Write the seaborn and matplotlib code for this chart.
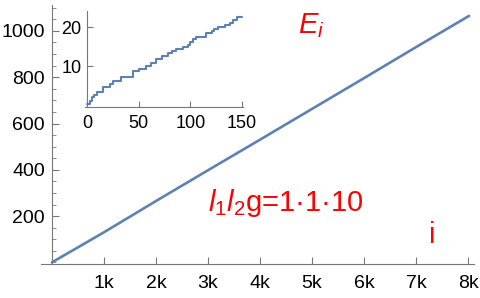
import numpy as np
import pandas as pd
import matplotlib
matplotlib.use("Agg")
import matplotlib.pyplot as plt
import seaborn as sns
from matplotlib.ticker import MultipleLocator, FixedLocator

# main curve: E_i read at every 1000 levels
main_i = [0, 1000, 2000, 3000, 4000, 5000, 6000, 7000, 8020]
main_E = [0, 130, 265, 398, 530, 663, 796, 930, 1065]

# inset: first 150 levels (step breakpoints)
inset_i = [0, 3, 5, 7, 10, 16, 22, 25, 33, 45, 50, 57, 62, 67, 73, 78, 82, 86,
           93, 98, 100, 103, 106, 115, 121, 123, 127, 134, 138, 141, 145, 150]
inset_E = [0.3, 1.0, 2.0, 2.7, 3.4, 4.5, 5.4, 6.1, 7.3, 8.7, 9.2, 10.1, 10.8, 11.8,
           12.6, 13.4, 13.9, 14.4, 15.0, 15.5, 16.1, 16.8, 17.5, 18.5, 19.0, 19.6,
           20.1, 20.6, 21.1, 21.7, 22.6, 22.6]

main_xticks = [1000, 2000, 3000, 4000, 5000, 6000, 7000, 8000]
main_xlabels = ["1k", "2k", "3k", "4k", "5k", "6k", "7k", "8k"]
main_yticks = [200, 400, 600, 800, 1000]

sns.set_style("ticks")
plt.rcParams["font.family"] = ["Liberation Sans", "DejaVu Sans"]
plt.rcParams["mathtext.fontset"] = "custom"
plt.rcParams["mathtext.rm"] = "Liberation Sans"
plt.rcParams["mathtext.it"] = "Liberation Sans:italic"

line_col = "#5E81B5"
axis_col = "#777777"

fig = plt.figure(figsize=(4.8, 2.98), dpi=100)
ax = fig.add_axes([41 / 480, 1 - 264 / 298, 433 / 480, 259 / 298])
df_main = pd.DataFrame({"i": main_i, "E": main_E})
sns.lineplot(data=df_main, x="i", y="E", ax=ax, color=line_col, linewidth=1.9)
ax.set_xlim(-210, 8115)
ax.set_ylim(-7, 1112)
ax.spines["left"].set_position(("data", 0))
ax.spines["right"].set_visible(False)
ax.spines["top"].set_visible(False)
for s in ["left", "bottom"]:
    ax.spines[s].set_color(axis_col)
ax.xaxis.set_major_locator(FixedLocator(main_xticks))
ax.set_xticklabels(main_xlabels)
ax.yaxis.set_major_locator(FixedLocator(main_yticks))
ax.yaxis.set_minor_locator(MultipleLocator(50))
ax.tick_params(axis="both", which="both", direction="in", colors=axis_col,
               labelcolor="black", labelsize=14)
ax.tick_params(axis="x", pad=8)
ax.tick_params(axis="y", pad=5)
ax.tick_params(which="major", length=5)
ax.tick_params(which="minor", length=3)
ax.set_xlabel("")
ax.set_ylabel("")

fig.text(311 / 480, 1 - 33 / 298, "$E_i$", color="red", fontsize=21,
         ha="center", va="baseline")
fig.text(286 / 480, 1 - 211 / 298, "$l_1l_2$g=1·1·10", color="red",
         fontsize=21, ha="center", va="baseline")
fig.text(432 / 480, 1 - 243 / 298, "i", color="red", fontsize=21,
         ha="center", va="baseline")

# inset
axi = fig.add_axes([85 / 480, 1 - 107 / 298, 158 / 480, 96 / 298])
df_in = pd.DataFrame({"i": inset_i, "E": inset_E})
sns.lineplot(data=df_in, x="i", y="E", ax=axi, color=line_col, linewidth=1.5,
             drawstyle="steps-post")
axi.set_xlim(-1.9, 151)
axi.set_ylim(-0.5, 24.1)
axi.spines["left"].set_position(("data", 0))
axi.spines["right"].set_visible(False)
axi.spines["top"].set_visible(False)
for s in ["left", "bottom"]:
    axi.spines[s].set_color(axis_col)
axi.xaxis.set_major_locator(FixedLocator([0, 50, 100, 150]))
axi.yaxis.set_major_locator(FixedLocator([10, 20]))
axi.tick_params(axis="both", direction="in", colors=axis_col,
                labelcolor="black", labelsize=13, length=4)
axi.tick_params(axis="x", pad=6)
axi.tick_params(axis="y", pad=4)
axi.set_xlabel("")
axi.set_ylabel("")
axi.patch.set_alpha(0)

fig.savefig("out.png", dpi=100)
